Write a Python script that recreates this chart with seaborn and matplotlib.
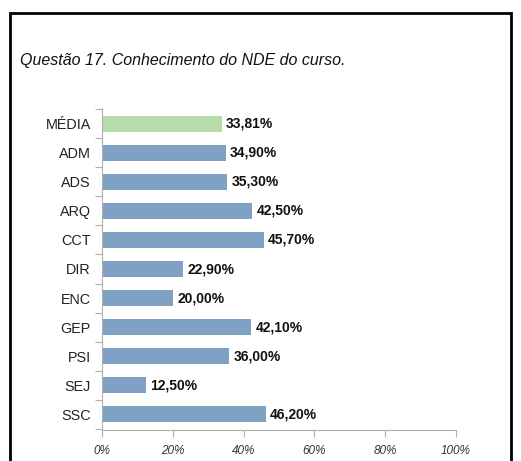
import pandas as pd
import matplotlib.pyplot as plt
import seaborn as sns
from matplotlib.patches import Rectangle

# Values
cursos = ['MÉDIA', 'ADM', 'ADS', 'ARQ', 'CCT', 'DIR', 'ENC', 'GEP', 'PSI', 'SEJ', 'SSC']
percentuais = [33.81, 34.90, 35.30, 42.50, 45.70, 22.90, 20.00, 42.10, 36.00, 12.50, 46.20]
rotulos = ['33,81%', '34,90%', '35,30%', '42,50%', '45,70%', '22,90%',
           '20,00%', '42,10%', '36,00%', '12,50%', '46,20%']
x_ticks = [0, 20, 40, 60, 80, 100]

sns.set_style('white')
plt.rcParams['font.family'] = ['Liberation Sans', 'DejaVu Sans']

df = pd.DataFrame({'curso': cursos, 'pct': percentuais})
df['tipo'] = ['media'] + ['curso'] * (len(cursos) - 1)

fig = plt.figure(figsize=(5.21, 4.61), dpi=100)
ax = fig.add_axes([102 / 521, 1 - 430 / 461, (456 - 102) / 521, (430 - 108) / 461])

sns.barplot(data=df, x='pct', y='curso', hue='tipo', dodge=False,
            palette={'media': '#b7dcaa', 'curso': '#7fa1c4'}, saturation=1,
            width=0.55, legend=False, ax=ax, edgecolor='none')

for i, (v, lab) in enumerate(zip(percentuais, rotulos)):
    ax.text(v + 1.2, i, lab, va='center', ha='left', fontsize=10,
            fontweight='bold', color='#111111')

ax.set_xlim(0, 100)
ax.set_ylim(len(cursos) - 0.5 + 0.05, -0.5 - 0.05)
ax.set_xticks(x_ticks)
ax.set_xticklabels([f'{t}%' for t in x_ticks], fontstyle='italic',
                   fontsize=8.5, color='#333333')
ax.set_xlabel('')
ax.set_ylabel('')
ax.tick_params(axis='y', labelsize=10.4, colors='#222222', length=0, pad=8)
ax.tick_params(axis='x', length=5, width=0.8, color='#b0b0b0', pad=6, bottom=True)
ax.set_yticks(range(len(cursos)))
ax.set_yticklabels(cursos)

# category separator ticks on the y axis
ax.set_yticks([i - 0.5 for i in range(len(cursos) + 1)], minor=True)
ax.tick_params(axis='y', which='minor', length=5, width=0.8, color='#b0b0b0', left=True)

for s in ['top', 'right']:
    ax.spines[s].set_visible(False)
for s in ['left', 'bottom']:
    ax.spines[s].set_color('#b0b0b0')
    ax.spines[s].set_linewidth(0.8)

fig.text(20 / 521, 1 - 60 / 461, 'Questão 17. Conhecimento do NDE do curso.',
         fontstyle='italic', fontsize=11.5, va='center', ha='left', color='#111111')

fig.patches.append(Rectangle((10 / 521, -0.05), (511 - 10) / 521, 1.05 - 13 / 461,
                             transform=fig.transFigure, fill=False,
                             edgecolor='black', linewidth=2))

fig.savefig('out.png', dpi=100)
